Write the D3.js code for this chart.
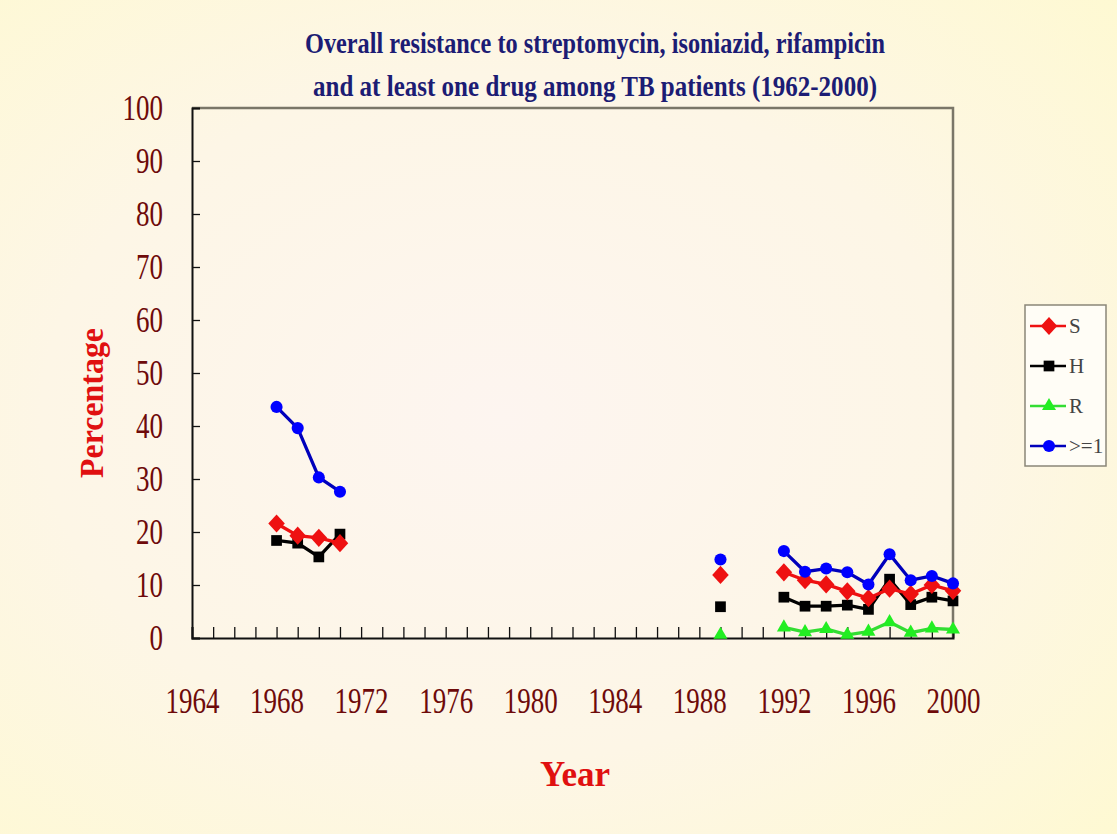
<!DOCTYPE html>
<html>
<head>
<meta charset="utf-8">
<script src="https://cdn.jsdelivr.net/npm/d3@7"></script>
<style>
  html, body { margin: 0; padding: 0; background: #fef8d4; }
  svg { display: block; }
</style>
</head>
<body>
<div id="chart"></div>
<script>
// data
var years = [1968, 1969, 1970, 1971, 1989, 1992, 1993, 1994, 1995, 1996, 1997, 1998, 1999, 2000];
var sValues = [21.6, 19.3, 18.9, 17.9, 11.9, 12.4, 10.9, 10.1, 8.8, 7.5, 9.3, 8.3, 10.0, 8.9];
var hValues = [18.4, 17.9, 15.3, 19.6, 5.9, 7.7, 6.0, 6.0, 6.2, 5.4, 11.1, 6.3, 7.7, 7.0];
var rValues = [null, null, null, null, 0.6, 2.0, 1.1, 1.7, 0.6, 1.2, 3.0, 1.0, 1.8, 1.6];
var anyValues = [43.6, 39.6, 30.3, 27.6, 14.8, 16.4, 12.5, 13.1, 12.4, 10.1, 15.8, 10.9, 11.7, 10.3];
var seriesNames = ['S', 'H', 'R', '>=1'];
var yearLabels = [1964, 1968, 1972, 1976, 1980, 1984, 1988, 1992, 1996, 2000];
var pctTicks = [0, 10, 20, 30, 40, 50, 60, 70, 80, 90, 100];

var svgWidth = 1117,
	svgHeight = 834;

var margin = { t: 108, r: 164, b: 196, l: 192 };
var width = svgWidth - margin.l - margin.r,
	height = svgHeight - margin.t - margin.b;

var svg = d3.select('#chart')
	.append('svg')
	.attr('width', svgWidth)
	.attr('height', svgHeight);

var defs = svg.append('defs');
var grad = defs.append('radialGradient')
	.attr('id', 'bg')
	.attr('cx', '45%').attr('cy', '50%').attr('r', '75%');
grad.append('stop').attr('offset', '0%').attr('stop-color', '#fdf5f0');
grad.append('stop').attr('offset', '55%').attr('stop-color', '#fdf6e6');
grad.append('stop').attr('offset', '100%').attr('stop-color', '#fef9d2');

svg.append('rect')
	.attr('width', svgWidth)
	.attr('height', svgHeight)
	.attr('fill', 'url(#bg)');

// title
var titleLines = ['Overall resistance to streptomycin, isoniazid, rifampicin',
	'and at least one drug among TB patients (1962-2000)'];
svg.selectAll('.title')
	.data(titleLines)
	.enter()
	.append('text')
	.attr('class', 'title')
	.attr('x', 595)
	.attr('y', (d, i) => 53 + i * 43)
	.attr('text-anchor', 'middle')
	.attr('font-family', 'Liberation Serif, serif')
	.attr('font-weight', 'bold')
	.attr('font-size', 30)
	.attr('fill', '#1c1c74')
	.attr('textLength', (d, i) => i === 0 ? 580 : 564)
	.attr('lengthAdjust', 'spacingAndGlyphs')
	.text(d => d);

var chartGroup = svg.append('g')
	.attr('transform', `translate(${margin.l},${margin.t})`);

var xScale = d3.scaleLinear().domain([1964, 2000]).range([0, width]);
var yScale = d3.scaleLinear().domain([0, 100]).range([height, 0]);

// frame (top & right)
chartGroup.append('path')
	.attr('d', `M0,0H${width}V${height}`)
	.attr('fill', 'none')
	.attr('stroke', '#7a7668')
	.attr('stroke-width', 2.5);

// x axis: yearly ticks pointing up
var xAxis = chartGroup.append('g')
	.attr('transform', `translate(0,${height})`)
	.call(d3.axisBottom(xScale)
		.tickValues(d3.range(1964, 2001))
		.tickSize(-11)
		.tickFormat(''));
xAxis.select('.domain').attr('stroke', '#111').attr('stroke-width', 2);
xAxis.selectAll('.tick line').attr('stroke', '#111').attr('stroke-width', 1.3);

var xLabels = chartGroup.append('g')
	.attr('transform', `translate(0,${height})`)
	.call(d3.axisBottom(xScale)
		.tickValues(yearLabels)
		.tickSize(0)
		.tickPadding(50)
		.tickFormat(d3.format('d')));
xLabels.select('.domain').remove();
xLabels.selectAll('text')
	.attr('font-family', 'Liberation Serif, serif')
	.attr('font-size', 35)
	.attr('fill', '#6e0a0a')
	.attr('textLength', 54)
	.attr('lengthAdjust', 'spacingAndGlyphs');

// y axis: ticks pointing in
var yAxis = chartGroup.append('g')
	.call(d3.axisLeft(yScale)
		.tickValues(pctTicks)
		.tickSize(-8)
		.tickPadding(29));
yAxis.select('.domain').attr('stroke', '#111').attr('stroke-width', 2);
yAxis.selectAll('.tick line').attr('stroke', '#111').attr('stroke-width', 1.3);
yAxis.selectAll('text')
	.attr('font-family', 'Liberation Serif, serif')
	.attr('font-size', 35)
	.attr('fill', '#6e0a0a')
	.attr('dy', '0.34em')
	.attr('textLength', d => String(d).length * 13.5)
	.attr('lengthAdjust', 'spacingAndGlyphs');

// axis titles
svg.append('text')
	.attr('transform', 'translate(103,403)rotate(-90)')
	.attr('text-anchor', 'middle')
	.attr('font-family', 'Liberation Serif, serif')
	.attr('font-weight', 'bold')
	.attr('font-size', 33)
	.attr('fill', '#e01010')
	.attr('textLength', 150)
	.attr('lengthAdjust', 'spacingAndGlyphs')
	.text('Percentage');

svg.append('text')
	.attr('x', 575)
	.attr('y', 786)
	.attr('text-anchor', 'middle')
	.attr('font-family', 'Liberation Serif, serif')
	.attr('font-weight', 'bold')
	.attr('font-size', 36)
	.attr('fill', '#e01010')
	.attr('textLength', 70)
	.attr('lengthAdjust', 'spacingAndGlyphs')
	.text('Year');

// wide diamond like the spreadsheet marker
var wideDiamond = {
	draw: function(context, size) {
		var w = Math.sqrt(size) * 0.6, h = Math.sqrt(size) * 0.66;
		context.moveTo(0, -h);
		context.lineTo(w, 0);
		context.lineTo(0, h);
		context.lineTo(-w, 0);
		context.closePath();
	}
};

// series
var series = [
	{ name: seriesNames[0], values: sValues, line: '#ee1111', fill: '#ee1111', symbol: wideDiamond, size: 190 },
	{ name: seriesNames[1], values: hValues, line: '#000000', fill: '#000000', symbol: d3.symbolSquare, size: 115 },
	{ name: seriesNames[2], values: rValues, line: '#33dd33', fill: '#22ee22', symbol: d3.symbolTriangle, size: 85 },
	{ name: seriesNames[3], values: anyValues, line: '#0000bb', fill: '#0000ff', symbol: d3.symbolCircle, size: 115 }
];

// split points into runs of consecutive years so gaps stay open
function runs(values) {
	var out = [], cur = [];
	years.forEach((yr, i) => {
		if (values[i] == null) { if (cur.length) out.push(cur); cur = []; return; }
		if (cur.length && yr - cur[cur.length - 1].year > 1) { out.push(cur); cur = []; }
		cur.push({ year: yr, v: values[i] });
	});
	if (cur.length) out.push(cur);
	return out;
}

var line = d3.line()
	.x(d => xScale(d.year))
	.y(d => yScale(d.v));

var order = [2, 1, 0, 3];
order.forEach(k => {
	var s = series[k];
	var g = chartGroup.append('g');
	g.selectAll('path.line')
		.data(runs(s.values).filter(r => r.length > 1))
		.enter()
		.append('path')
		.attr('class', 'line')
		.attr('d', line)
		.attr('fill', 'none')
		.attr('stroke', s.line)
		.attr('stroke-width', 3.3);
	var pts = [];
	years.forEach((yr, i) => { if (s.values[i] != null) pts.push({ year: yr, v: s.values[i] }); });
	g.selectAll('path.mark')
		.data(pts)
		.enter()
		.append('path')
		.attr('class', 'mark')
		.attr('d', d3.symbol().type(s.symbol).size(s.size))
		.attr('transform', d => `translate(${xScale(d.year)},${yScale(d.v)})`)
		.attr('fill', s.fill);
});

// legend
var legend = svg.append('g').attr('transform', 'translate(1025,305)');
legend.append('rect')
	.attr('width', 81)
	.attr('height', 161)
	.attr('fill', '#fffdf6')
	.attr('stroke', '#8a8678')
	.attr('stroke-width', 1.5);

var legendItems = legend.selectAll('.item')
	.data(series)
	.enter()
	.append('g')
	.attr('class', 'item')
	.attr('transform', (d, i) => `translate(0,${21 + i * 40})`);
legendItems.append('line')
	.attr('x1', 5).attr('x2', 41)
	.attr('stroke', d => d.line)
	.attr('stroke-width', 2.5);
legendItems.append('path')
	.attr('d', d => d3.symbol().type(d.symbol).size(d.size)())
	.attr('transform', 'translate(24,0)')
	.attr('fill', d => d.fill);
legendItems.append('text')
	.attr('x', 44)
	.attr('dy', '0.35em')
	.attr('font-family', 'Liberation Serif, serif')
	.attr('font-size', 21)
	.attr('fill', '#444')
	.text(d => d.name);
</script>
</body>
</html>
